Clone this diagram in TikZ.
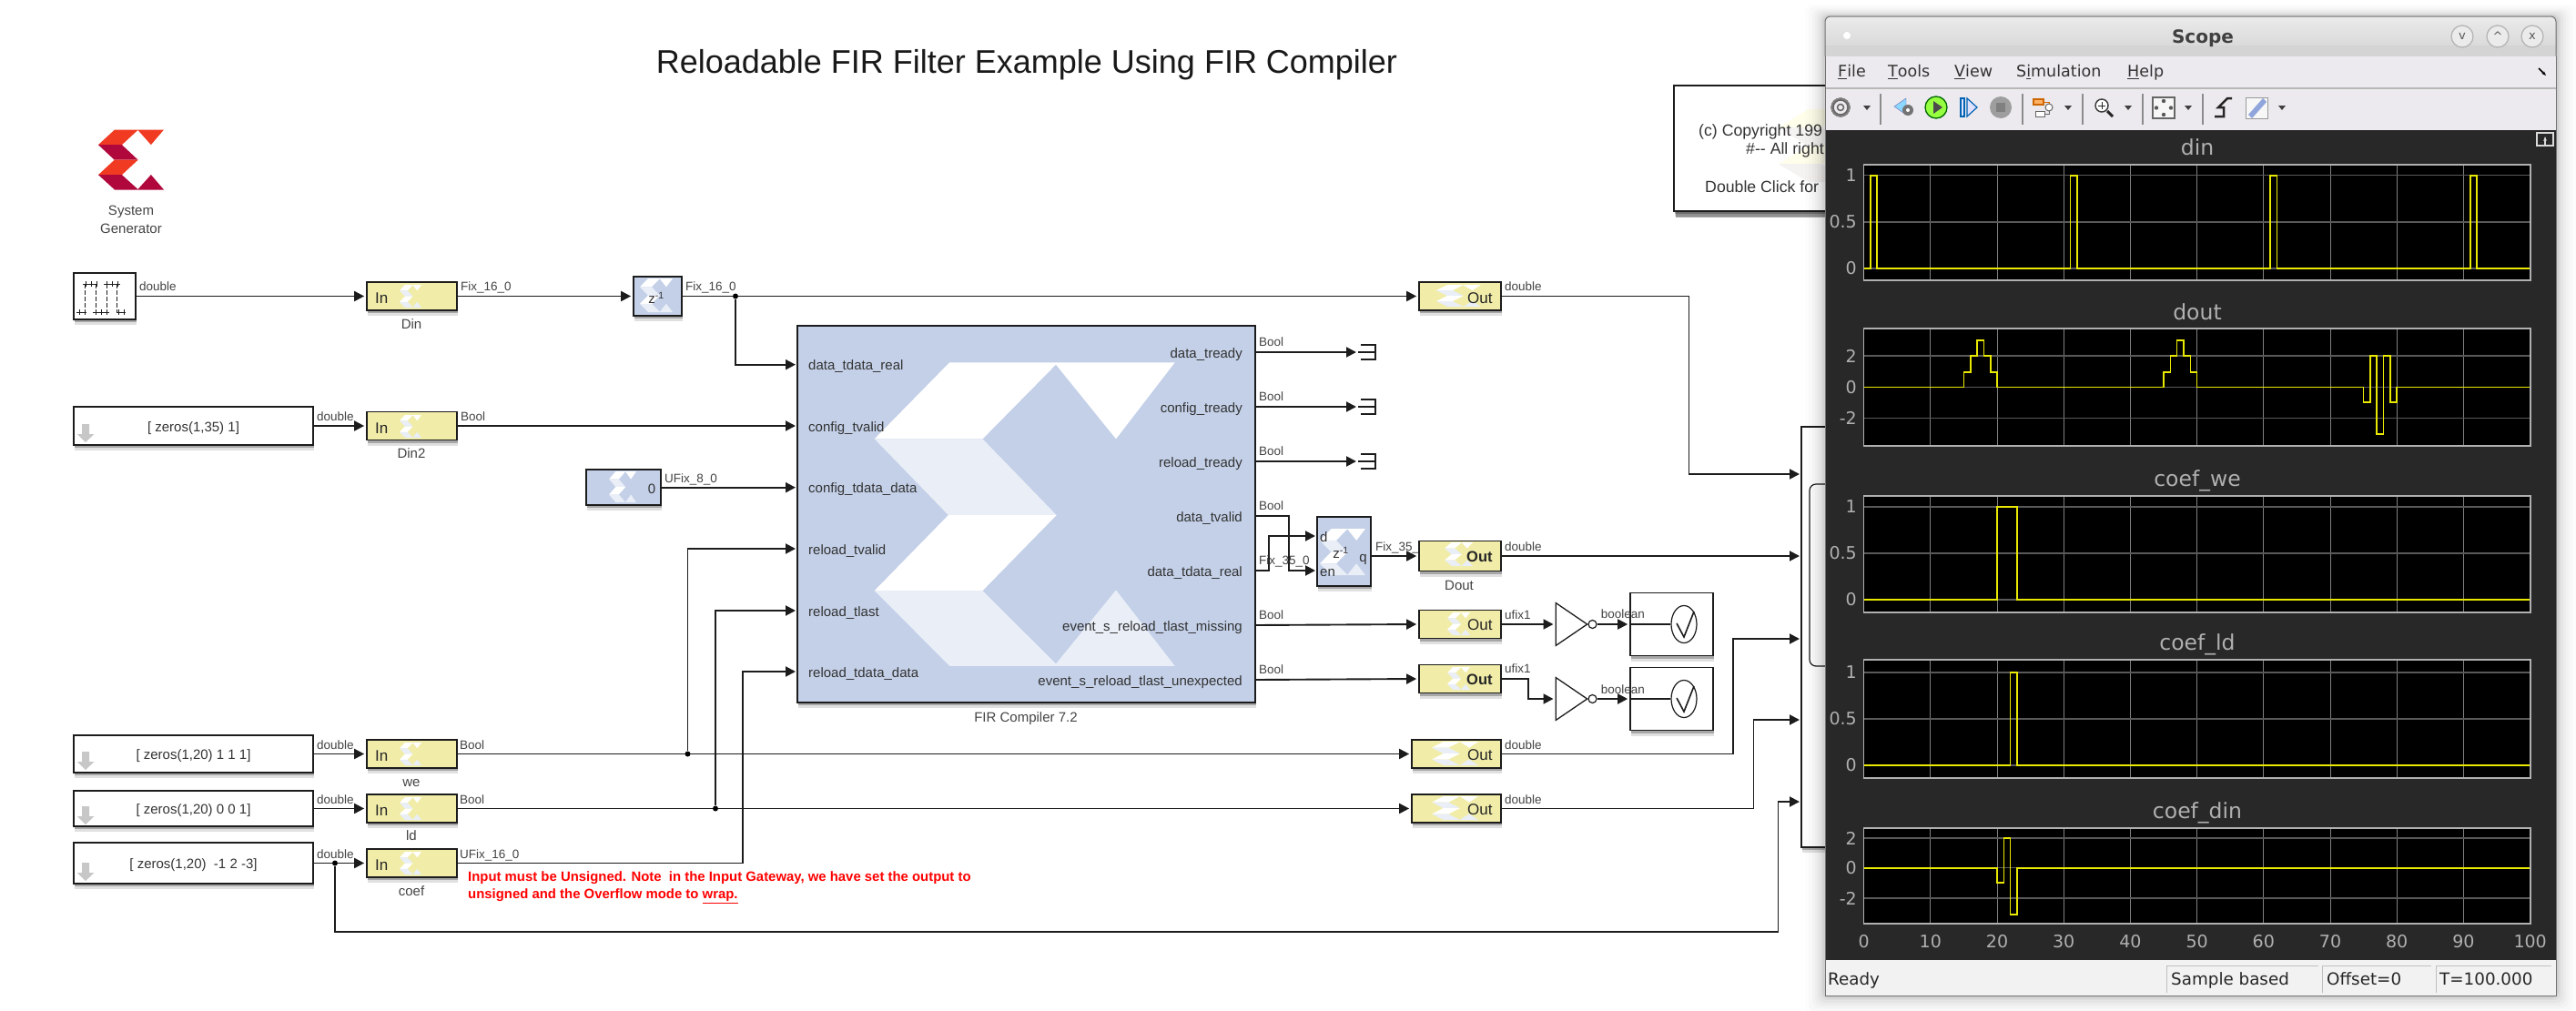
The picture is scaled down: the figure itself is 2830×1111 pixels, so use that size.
\documentclass[tikz,border=0pt]{standalone}
\usepackage{fontspec}
\setmainfont{Liberation Sans}
\newfontfamily\scopefont{DejaVu Sans}
\usetikzlibrary{arrows.meta,shadows,shapes.geometric}
\definecolor{wirec}{HTML}{1C1C1C}
\definecolor{gwyellow}{HTML}{F1EDA8}
\definecolor{sgblue}{HTML}{C3D0E8}
\definecolor{paleblue}{HTML}{E9EEF7}
\definecolor{labelc}{HTML}{444444}
\definecolor{logored}{HTML}{F03A22}
\definecolor{logodark}{HTML}{B0083C}
\definecolor{panelc}{HTML}{282828}
\definecolor{barc}{HTML}{ECEAEE}
\definecolor{sigc}{HTML}{E8E800}
\definecolor{tickc}{HTML}{B0B0B0}
\newcommand\fsz[1]{\fontsize{#1}{#1}\selectfont}
% left, top, width, height, first colour, second colour
\newcommand\xlogo[6]{
    \begin{scope}[shift={(#1,#2)},x=#3pt,y=-#4pt]
    \fill[#5] (.25,0)--(1,0)--(.804,.252)--(.604,.007)--(.36,.252)--(0,.252)--cycle;
    \fill[#6] (0,.252)--(.36,.252)--(.606,.503)--(.246,.503)--cycle;
    \fill[#5] (.246,.503)--(.606,.503)--(.36,.752)--(0,.752)--cycle;
    \fill[#6] (0,.752)--(.36,.752)--(.604,.993)--(.804,.75)--(1,1)--(.25,1)--cycle;
    \end{scope}
}
\newcommand\grayarrow[1]{
    \fill[black!22] (90,#1-20)--(98,#1-20)--(98,#1-9)--(103.5,#1-9)--(94,#1)--(85,#1-9)--(90,#1-9)--cycle;
}
% top, bottom, name, title
\newcommand\plotframe[4]{
    \fill[black] (2047.6,#1) rectangle (2780,#2);
    \foreach \g in {1,...,9} \draw[gridv] (2047.6+73.2*\g,#1)--(2047.6+73.2*\g,#2);
    \node[plottitle] (#3) at (2414,#1-18) {#4};
}
% name, value, y
\newcommand\ytick[3]{
    \draw[gridh] (2047.6,#3)--(2780,#3);
    \node[ticklabel] (#1) at (2040,#3) {#2};
}
\newcommand\plotedge[2]{\draw[tickc,line width=1.5pt] (2047.6,#1) rectangle (2780,#2);}
\newcommand\dropmark[1]{\fill[black!75] (#1-4,116)--(#1+4,116)--(#1,121)--cycle;}
\tikzset{
    softshadow/.style={drop shadow={shadow xshift=1pt,shadow yshift=-6pt,fill=black,opacity=.12},
        drop shadow={shadow xshift=1pt,shadow yshift=-3pt,fill=black,opacity=.25}},
    evenline/.style={text height=14pt,text depth=1.5pt},
    block/.style={draw=wirec,line width=1.7pt,inner sep=0pt,softshadow},
    gateway/.style={block,fill=gwyellow,minimum width=99pt,minimum height=31pt},
    widegate/.style={block,fill=gwyellow,minimum width=98pt,minimum height=31pt},
    constblk/.style={block,fill=white,minimum width=263pt,font=\fsz{15},text=black!80,evenline},
    sgblock/.style={block,fill=sgblue},
    wire/.style={draw=wirec,line width=1.9pt,shorten >=2pt,-{Triangle[length=11pt,width=11pt]}},
    plainwire/.style={draw=wirec,line width=1.9pt},
    dot/.style={circle,fill=black,minimum size=6pt,inner sep=0pt},
    sigtext/.style={anchor=west,font=\fsz{13.5},text=labelc,inner sep=0pt,evenline},
    blockname/.style={font=\fsz{15},text=labelc,inner sep=0pt,evenline},
    porttext/.style={font=\fsz{15},text=black!80,inner sep=0pt,evenline},
    gateio/.style={anchor=west,font=\fsz{17},text=black!85,inner sep=0pt},
    redtext/.style={anchor=west,font=\fsz{14.9}\bfseries,text=red,inner sep=0pt},
    inverter/.style={draw=wirec,line width=1.3pt,fill=white,isosceles triangle,isosceles triangle stretches,
        inner sep=0pt,minimum width=47pt,minimum height=34.5pt,anchor=lower side},
    bubble/.style={circle,draw=wirec,line width=1.2pt,fill=white,minimum size=9pt,inner sep=0pt},
    checkbox/.style={draw=wirec,line width=1.6pt,fill=white,minimum width=91pt,minimum height=69pt,inner sep=0pt,softshadow},
    checkring/.style={ellipse,draw=wirec,line width=1.2pt,fill=white,minimum width=28pt,minimum height=41pt,inner sep=0pt},
    gridv/.style={draw=black!50,line width=1pt},
    gridh/.style={draw=black!65,line width=1.4pt},
    sigline/.style={draw=sigc,line width=1.6pt},
    plottitle/.style={font=\scopefont\fsz{23.5},text=tickc,inner sep=0pt,text height=18pt,text depth=4pt},
    ticklabel/.style={anchor=east,font=\scopefont\fsz{19},text=tickc,inner sep=0pt},
    xticklabel/.style={font=\scopefont\fsz{19},text=tickc,inner sep=0pt},
    menutext/.style={anchor=west,font=\scopefont\fsz{17.5},text=black!80,inner sep=0pt,text height=14pt,text depth=3pt},
    statustext/.style={anchor=west,font=\scopefont\fsz{18.3},text=black!85,inner sep=0pt,text height=16pt,text depth=2pt},
    statusbox/.style={draw=black!25,line width=1pt},
    winbutton/.style={circle,draw=black!30,line width=1.2pt,fill=black!8,minimum size=24pt,inner sep=0pt,font=\scopefont\fsz{13},text=black!65},
    toolsep/.style={draw=black!45,line width=1.2pt},
}
\begin{document}
\begin{tikzpicture}[x=1pt,y=-1pt]
    \useasboundingbox (0,0) rectangle (2830,1111);
    \fill[white] (0,0) rectangle (2830,1111);

    \node[font=\fsz{36},text=black!90,inner sep=0pt] (title) at (1128,71) {Reloadable FIR Filter Example Using FIR Compiler};

    % system generator token
    \xlogo{108}{142.5}{72}{66}{logored}{logodark}
    \node[blockname] (sysgen1) at (144,230) {System};
    \node[blockname] (sysgen2) at (144,250) {Generator};

    % sources
    \node[block,fill=white,minimum width=68pt,minimum height=51pt] (pulse) at (115,325.5) {};
    \foreach \a/\b in {91/107,114/132} \draw[wirec,line width=1pt] (\a,312)--(\b,312);
    \foreach \a/\b in {84/95,102/120,128/138} \draw[wirec,line width=1pt] (\a,343)--(\b,343);
    \foreach \vx in {93,105,117,128} \draw[wirec,line width=1pt,dash pattern=on 5pt off 2pt] (\vx,312)--(\vx,343);
    \foreach \vx in {94,100,106,117,123,129} \draw[wirec,line width=1pt] (\vx,309)--(\vx,315);
    \foreach \vx in {87,93,105,111,117,130,136} \draw[wirec,line width=1pt] (\vx,340)--(\vx,346);

    \node[constblk,minimum height=42pt] (wave) at (212.5,468) {[ zeros(1,35) 1]};
    \grayarrow{486}
    \node[constblk,minimum height=41pt] (wewave) at (212.5,828.5) {[ zeros(1,20) 1 1 1]};
    \grayarrow{846}
    \node[constblk,minimum height=39pt] (ldwave) at (212.5,888.5) {[ zeros(1,20) 0 0 1]};
    \grayarrow{906}
    \node[constblk,minimum height=45pt] (coefwave) at (212.5,948.5) {[ zeros(1,20)~ -1 2 -3]};
    \grayarrow{968}

    % gateways in
    \node[gateway] (din) at (452.5,325.5) {};
    \xlogo{439}{313}{24}{25}{white}{paleblue}
    \node[gateio] (dinio) at (412,328) {In};
    \node[blockname] (dinname) at (452,355) {Din};
    \node[gateway] (din2) at (452.5,468) {};
    \xlogo{439}{456}{24}{25}{white}{paleblue}
    \node[gateio] (din2io) at (412,470.5) {In};
    \node[blockname] (din2name) at (452,497) {Din2};
    \node[gateway] (we) at (452.5,828.5) {};
    \xlogo{439}{816}{24}{25}{white}{paleblue}
    \node[gateio] (weio) at (412,831) {In};
    \node[blockname] (wename) at (452,858) {we};
    \node[gateway] (ld) at (452.5,888.5) {};
    \xlogo{439}{876}{24}{25}{white}{paleblue}
    \node[gateio] (ldio) at (412,891) {In};
    \node[blockname] (ldname) at (452,917) {ld};
    \node[gateway] (coef) at (452.5,948.5) {};
    \xlogo{439}{936}{24}{25}{white}{paleblue}
    \node[gateio] (coefio) at (412,951) {In};
    \node[blockname] (coefname) at (452,978) {coef};

    % delay and constant
    \node[sgblock,minimum width=53pt,minimum height=43pt] (zd) at (722.5,325.5) {};
    \xlogo{703}{306}{36}{37}{white}{paleblue}
    \node[porttext] (zdtext) at (721,327) {z\textsuperscript{-1}};
    \node[sgblock,minimum width=82pt,minimum height=39pt] (zero) at (685,535.7) {};
    \xlogo{669}{518}{30}{34}{white}{paleblue}
    \node[porttext] (zerotext) at (716,536) {0};

    % fir compiler
    \node[sgblock,minimum width=503pt,minimum height=414pt] (fir) at (1127.5,565) {};
    \xlogo{960.7}{398.3}{330}{333.5}{white}{paleblue}
    \node[blockname] (firname) at (1127,787) {FIR Compiler 7.2};
    \foreach \n/\y/\t in {dreal/400.7/data\_tdata\_real,cvalid/468/config\_tvalid,cdata/535.7/config\_tdata\_data,
        rvalid/603/reload\_tvalid,rlast/671/reload\_tlast,rdata/738/reload\_tdata\_data}{
        \coordinate (in\n) at (876,\y);
        \node[porttext,anchor=west] (inl\n) at (888,\y) {\t};
    }
    \foreach \n/\y/\t in {dready/387/data\_tready,cready/447/config\_tready,rready/507/reload\_tready,
        dvalid/567/data\_tvalid,dreal/627/data\_tdata\_real,miss/687/event\_s\_reload\_tlast\_missing,
        unexp/747/event\_s\_reload\_tlast\_unexpected}{
        \coordinate (out\n) at (1379,\y);
        \node[porttext,anchor=east] (outl\n) at (1365,\y) {\t};
    }

    % terminators
    \foreach \n/\y in {dready/387,cready/447,rready/507}{
        \coordinate (term\n) at (1492,\y);
        \draw[wirec,line width=1.3pt] (1495,\y-8)--(1511,\y-8)--(1511,\y+8)--(1495,\y+8);
        \draw[wirec,line width=1.3pt] (term\n)--(1511,\y);
        \draw[wire] (out\n)--(term\n);
    }

    % register
    \node[sgblock,minimum width=59pt,minimum height=76pt] (reg) at (1476.5,606) {};
    \xlogo{1450}{581}{50}{51}{white}{paleblue}
    \node[porttext] (regz) at (1473,607) {z\textsuperscript{-1}};
    \node[porttext,anchor=west] (regd) at (1450,589) {d};
    \node[porttext,anchor=west] (regen) at (1450,627) {en};
    \node[porttext,anchor=east] (regq) at (1502,611) {q};
    \coordinate (dport) at (1447,589);
    \coordinate (enport) at (1447,627);
    \coordinate (qport) at (1506,611);

    % labels under the out gateways
    \node[sigtext] (sfix35) at (1511,599) {Fix\_35\_0};

    % gateways out
    \node[widegate,minimum width=90pt] (outa) at (1604,325.5) {};
    \xlogo{1578}{313}{49}{24}{white}{paleblue}
    \node[gateio] (outaio) at (1612,328) {Out};
    \node[widegate,minimum width=90pt,minimum height=33pt] (dout) at (1604,611) {};
    \xlogo{1587}{596}{31}{26}{white}{paleblue}
    \node[gateio,font=\fsz{16.5}\bfseries] (doutio) at (1611,612) {Out};
    \node[blockname] (doutname) at (1603,642) {Dout};
    \node[widegate,minimum width=90pt] (outm) at (1604,686) {};
    \xlogo{1590}{673}{25}{25}{white}{paleblue}
    \node[gateio] (outmio) at (1612,687) {Out};
    \node[widegate,minimum width=90pt] (outu) at (1604,746) {};
    \xlogo{1590}{733}{25}{25}{white}{paleblue}
    \node[gateio,font=\fsz{16.5}\bfseries] (outuio) at (1611,747) {Out};
    \node[widegate] (outw) at (1600,828.5) {};
    \xlogo{1573}{815}{51}{26}{white}{paleblue}
    \node[gateio] (outwio) at (1612,830) {Out};
    \node[widegate] (outl) at (1600,888.5) {};
    \xlogo{1573}{875}{51}{26}{white}{paleblue}
    \node[gateio] (outlio) at (1612,890) {Out};

    % inverters and assertions
    \node[checkbox] (chka) at (1836.5,686) {};
    \node[checkring] (ringa) at (1850,686) {};
    \draw[wirec,line width=1.6pt] (1842,685)--(1850,700)--(1861,672);
    \node[inverter] (nota) at (1708.5,686) {};
    \node[bubble] (buba) at (1749.5,686) {};
    \node[checkbox] (chkb) at (1836.5,768) {};
    \node[checkring] (ringb) at (1850,768) {};
    \draw[wirec,line width=1.6pt] (1842,767)--(1850,782)--(1861,754);
    \node[inverter] (notb) at (1708.5,768) {};
    \node[bubble] (bubb) at (1749.5,768) {};
    \draw[plainwire,line width=1.3pt] (chka.west)--(ringa.west);
    \draw[plainwire,line width=1.3pt] (chkb.west)--(ringb.west);

    % connectors
    \draw[wire] (pulse.east)--(din.west);
    \draw[wire] (din.east)--(zd.west);
    \draw[wire] (zd.east)--(outa.west);
    \node[dot] (jdata) at (808,325.5) {};
    \draw[wire] (jdata)|-(indreal);
    \draw[wire] (wave.east)--(din2.west);
    \draw[wire] (din2.east)--(incvalid);
    \draw[wire] (zero.east)--(incdata);
    \draw[wire] (wewave.east)--(we.west);
    \draw[wire] (ldwave.east)--(ld.west);
    \draw[wire] (coefwave.east)--(coef.west);
    \draw[wire] (we.east)--(outw.west);
    \draw[wire] (ld.east)--(outl.west);
    \node[dot] (jwe) at (755.5,828.5) {};
    \node[dot] (jld) at (786,888.5) {};
    \node[dot] (jcoef) at (368,948.5) {};
    \draw[wire] (jwe)|-(inrvalid);
    \draw[wire] (jld)|-(inrlast);
    \draw[wire] (coef.east)-|(816,800)|-(inrdata);
    \draw[plainwire] (outdvalid)-|(1416,600);
    \draw[wire] (1416,600)|-(enport);
    \draw[plainwire] (outdreal)-|(1394,608);
    \draw[wire] (1394,608)|-(dport);
    \draw[wire] (qport)--(dout.west);
    \draw[wire] (outmiss)--(outm.west);
    \draw[wire] (outunexp)--(outu.west);
    \draw[wire] (outm.east)--(nota.lower side);
    \draw[wire] (outu.east)-|(1678.6,757)|-(notb.lower side);
    \draw[wire] (buba.east)--(chka.west);
    \draw[wire] (bubb.east)--(chkb.west);

    % scope block behind the window
    \node[block,fill=white,minimum width=100pt,minimum height=462pt] (scopeblk) at (2029,700) {};
    \draw[wirec,line width=1.2pt,rounded corners=7pt] (2010,532)-|(1988,732)--(2010,732);
    \coordinate (sca) at (1979,521);
    \coordinate (scb) at (1979,611);
    \coordinate (scc) at (1979,702);
    \coordinate (scd) at (1979,791);
    \coordinate (sce) at (1979,881);
    \coordinate (coefbend) at (1953.5,1024);
    \draw[wire] (outa.east)-|(1855.5,420)|-(sca);
    \draw[wire] (dout.east)--(scb);
    \draw[wire] (outw.east)-|(1904,760)|-(scc);
    \draw[wire] (outl.east)-|(1926.5,840)|-(scd);
    \draw[plainwire] (jcoef)|-(coefbend);
    \draw[wire] (coefbend)|-(sce);

    % signal labels
    \foreach \n/\x/\y/\t in {sa/153/313/double,sb/506/313/Fix\_16\_0,sc/753/313/Fix\_16\_0,sd/1653/313/double,
        se/348/456/double,sf/506/456/Bool,sg/730/524/UFix\_8\_0,
        sh/348/817/double,si/505/817/Bool,sj/348/877/double,sk/505/877/Bool,sl/348/937/double,sm/505/937/UFix\_16\_0,
        sn/1383/374/Bool,so/1383/434/Bool,sp/1383/494/Bool,sq/1383/554/Bool,sr/1383/614/Fix\_35\_0,
        ss/1383/674/Bool,st/1383/734/Bool,su/1653/599/double,sv/1653/674/ufix1,sw/1653/733/ufix1,
        sx/1758.6/673/boolean,sy/1758.6/756/boolean,sz/1653/817/double,saa/1653/877/double}
        \node[sigtext] (\n) at (\x,\y) {\t};

    \node[redtext] (notea) at (514,964.5) {Input must be Unsigned. Note~ in the Input Gateway, we have set the output to};
    \node[redtext] (noteb) at (514,984.5) {unsigned and the Overflow mode to \underline{wrap.}};

    % copyright box
    \node[block,fill=white,minimum width=220pt,minimum height=138pt,
        drop shadow={shadow xshift=2pt,shadow yshift=-7pt,fill=black,opacity=.35}] (copybox) at (1949,163) {};
    \xlogo{1954}{120}{130}{80}{yellow!8!white}{yellow!14!black!6}
    \node[porttext,anchor=west,font=\fsz{17.7}] (copya) at (1866,143) {(c) Copyright 199};
    \node[porttext,anchor=west,font=\fsz{17.7}] (copyb) at (1918,163) {\#{-}{-} All right};
    \node[porttext,anchor=west,font=\fsz{17.7}] (copyc) at (1873,205) {Double Click for};

    % scope window
    \foreach \d/\o in {22/.012,18/.016,14/.02,11/.025,8/.03,5/.04,3/.05}
        \fill[black,opacity=\o,rounded corners=8pt] (2005-\d,18-\d*.6) rectangle (2808+\d,1094+\d);
    \fill[barc,rounded corners=6pt] (2005,18) rectangle (2808,40);
    \fill[top color=black!8,bottom color=black!17,rounded corners=6pt] (2005,18) rectangle (2808,62);
    \fill[black!17] (2005,50) rectangle (2808,62);
    \draw[black!55,line width=1pt,rounded corners=6pt] (2005,62)--(2005,18)--(2808,18)--(2808,62);
    \fill[barc] (2005,62) rectangle (2808,143);
    \draw[black!28,line width=1.5pt] (2005,97)--(2808,97);
    \fill[panelc] (2005,143) rectangle (2808,1055);
    \fill[black!5] (2005,1055) rectangle (2808,1094);
    \draw[black!55,line width=1pt] (2005,62)--(2005,1094)--(2808,1094)--(2808,62);

    \node[font=\scopefont\fsz{20}\bfseries,text=black!75,inner sep=0pt] (wintitle) at (2420,42) {Scope};
    \node[circle,fill=white,draw=black!15,minimum size=9pt,inner sep=0pt] (windot) at (2029,39) {};
    \node[winbutton] (winmin) at (2705,40) {v};
    \node[winbutton] (winmax) at (2744,40) {\^{}};
    \node[winbutton] (winclose) at (2782,40) {x};

    \node[menutext] (mfile) at (2019,79) {\underline{F}ile};
    \node[menutext] (mtools) at (2074,79) {\underline{T}ools};
    \node[menutext] (mview) at (2147,79) {\underline{V}iew};
    \node[menutext] (msim) at (2215,79) {S\underline{i}mulation};
    \node[menutext] (mhelp) at (2337,79) {\underline{H}elp};
    \draw[black,line width=1.6pt,-{Stealth[length=5pt]}] (2789,75)--(2797,83);

    % toolbar
    \foreach \sx in {2066,2222,2288,2354,2420} \draw[toolsep] (\sx,103)--(\sx,137);
    \foreach \sx in {2051,2272,2338,2404,2507} \dropmark{\sx}
    \fill[black!50] (2022,118) circle (10.5);
    \fill[barc] (2022,118) circle (8);
    \draw[black!60,line width=1.5pt] (2022,118) circle (8);
    \draw[black!60,line width=1.5pt] (2022,118) circle (3.5);
    \fill[blue!35!cyan!45!white,draw=blue!50!black!60] (2081,117)--(2094,108)--(2094,126)--cycle;
    \fill[black!55] (2096,121) circle (6);
    \fill[white] (2096,121) circle (2);
    \node[circle,draw=green!40!black,line width=1.3pt,fill=green!55!yellow!75!white,minimum size=24pt,inner sep=0pt] (playbtn) at (2127,118) {};
    \fill[black!70] (2124,111)--(2134,118)--(2124,125)--cycle;
    \draw[blue!45!cyan!70!black,fill=blue!12,line width=1.2pt] (2154,108) rectangle (2158,128);
    \draw[blue!45!cyan!70!black,fill=blue!12,line width=1.2pt] (2161,108)--(2172,118)--(2161,128)--cycle;
    \node[circle,fill=black!38,minimum size=24pt,inner sep=0pt] (stopbtn) at (2198,118) {};
    \fill[black!50] (2193,113) rectangle (2203,123);
    \draw[orange!80!black,fill=orange!60,line width=1.2pt] (2234,109) rectangle (2245,115);
    \draw[black!60,fill=white,line width=1pt] (2236,122) rectangle (2246,128);
    \draw[black!60,fill=white,line width=1pt] (2251,118) circle (4);
    \draw[orange!80!black,line width=1pt] (2245,112)-|(2251,114);
    \draw[black!60,line width=1pt] (2246,125)-|(2251,122);
    \draw[black!75,line width=1.5pt,fill=white] (2309,116) circle (7);
    \draw[black!85,line width=3pt] (2315,122)--(2321,128);
    \draw[black!85,line width=1pt] (2305,116)--(2313,116) (2309,112)--(2309,120);
    \draw[black!60,line width=1.2pt,fill=black!3] (2365,107) rectangle (2389,130);
    \foreach \ax/\ay in {2377/111,2377/126,2369/118.5,2385/118.5} \fill[black!65] (\ax,\ay) circle (2.2);
    \draw[black!85,line width=2.5pt] (2433,128)--(2443,128)--(2443,118)--(2437,118)--(2447,108)--(2452,108);
    \draw[black!40,line width=1pt,fill=black!3] (2467,107) rectangle (2491,130);
    \fill[cyan!40!blue!45] (2470,126)--(2486,108)--(2490,112)--(2474,130)--cycle;

    % plots
    \plotframe{181}{308}{tdin}{din}
    \ytick{dina}{1}{192.7}
    \ytick{dinb}{0.5}{244}
    \ytick{dinc}{0}{295}
    \plotframe{362}{490}{tdout}{dout}
    \ytick{douta}{2}{391}
    \ytick{doutb}{0}{425.3}
    \ytick{doutc}{-2}{459.7}
    \plotframe{545}{673}{twe}{coef\_we}
    \ytick{wea}{1}{557}
    \ytick{web}{0.5}{608}
    \ytick{wec}{0}{659}
    \plotframe{725}{855}{tld}{coef\_ld}
    \ytick{lda}{1}{739}
    \ytick{ldb}{0.5}{790}
    \ytick{ldc}{0}{841}
    \plotframe{910}{1015}{tcoef}{coef\_din}
    \ytick{cda}{2}{921}
    \ytick{cdb}{0}{953.7}
    \ytick{cdc}{-2}{987}

    \begin{scope}[xshift=2047.6pt,x=7.32pt]
    \draw[sigline] plot[const plot] coordinates {(0,295)(1,192.7)(2,295)(31,192.7)(32,295)(61,192.7)(62,295)(91,192.7)(92,295)(100,295)};
    \draw[sigline] plot[const plot] coordinates {(0,425.3)(15,409)(16,391)(17,374)(18,391)(19,409)(20,425.3)(45,409)(46,391)(47,374)(48,391)(49,409)(50,425.3)
        (75,442)(76,391)(77,476.7)(78,391)(79,442)(80,425.3)(100,425.3)};
    \draw[sigline] plot[const plot] coordinates {(0,659)(20,557)(23,659)(100,659)};
    \draw[sigline] plot[const plot] coordinates {(0,841)(22,739)(23,841)(100,841)};
    \draw[sigline] plot[const plot] coordinates {(0,953.7)(20,970)(21,921)(22,1005)(23,953.7)(100,953.7)};
    \end{scope}
    \plotedge{181}{308}
    \plotedge{361}{490}
    \plotedge{545}{673}
    \plotedge{725}{855}
    \plotedge{910}{1015}
    \foreach \t in {0,10,...,100}
        \node[xticklabel] (xt\t) at (2047.6+7.32*\t,1035) {\t};

    % undock mark
    \draw[white!85!black,line width=1.2pt] (2787,146) rectangle (2805,160);
    \draw[white!85!black,line width=1.5pt,-{Stealth[length=5pt]}] (2796,160)--(2796,150);

    % status bar
    \node[statustext] (stready) at (2008,1075) {Ready};
    \draw[statusbox] (2380,1091)|-(2547,1061);
    \draw[statusbox] (2551.6,1091)|-(2671,1061);
    \draw[statusbox] (2676,1091)|-(2803,1061);
    \node[statustext] (stmode) at (2385,1075) {Sample based};
    \node[statustext] (stoff) at (2556,1075) {Offset=0};
    \node[statustext] (sttime) at (2680,1075) {T=100.000};
\end{tikzpicture}
\end{document}
